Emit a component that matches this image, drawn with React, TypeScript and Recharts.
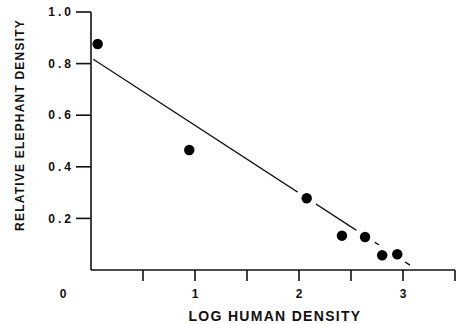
import React from "react";
import { ScatterChart, Scatter, XAxis, YAxis } from "recharts";

const xValues = [0.064, 0.945, 2.074, 2.413, 2.635, 2.8, 2.945];
const yValues = [0.876, 0.465, 0.278, 0.133, 0.128, 0.057, 0.061];
const fitX = [0.022, 3.067];
const fitY = [0.817, 0.019];
const xTicks = [0, 0.5, 1, 1.5, 2, 2.5, 3, 3.5];
const yTicks = [0.2, 0.4, 0.6, 0.8, 1.0];
const xLabelText = "LOG HUMAN DENSITY";
const yLabelText = "RELATIVE ELEPHANT DENSITY";

const points = xValues.map((x, i) => ({ x, y: yValues[i] }));
const fitLine = fitX.map((x, i) => ({ x, y: fitY[i] }));

const FONT = "'Liberation Sans', Arial, sans-serif";
const INK = "#111";

function XTick(props: any) {
  const { x, y, payload } = props;
  const v = payload.value as number;
  const axisY = y - 19;
  const isInt = Math.abs(v - Math.round(v)) < 1e-9;
  return (
    <g>
      {v !== 0 && (
        <line x1={x} x2={x} y1={axisY} y2={axisY + 11} stroke={INK} strokeWidth={1.6} />
      )}
      {isInt && (
        <text
          x={v === 0 ? x - 28 : x}
          y={y}
          dy="0.71em"
          textAnchor="middle"
          fontFamily={FONT}
          fontWeight="bold"
          fontSize={12}
          fill={INK}
        >
          {String(v)}
        </text>
      )}
    </g>
  );
}

function YTick(props: any) {
  const { x, y, payload } = props;
  return (
    <text
      x={x}
      y={y}
      dy="0.35em"
      textAnchor="end"
      fontFamily={FONT}
      fontWeight="bold"
      fontSize={12}
      letterSpacing={3}
      fill={INK}
    >
      {(payload.value as number).toFixed(1)}
    </text>
  );
}

function YLabel() {
  return (
    <text
      x={24}
      y={125}
      transform="rotate(-90 24 125)"
      textAnchor="middle"
      fontFamily={FONT}
      fontWeight="bold"
      fontSize={12}
      letterSpacing={1.2}
      fill={INK}
    >
      {yLabelText}
    </text>
  );
}

function XLabel() {
  return (
    <text
      x={275}
      y={321}
      textAnchor="middle"
      fontFamily={FONT}
      fontWeight="bold"
      fontSize={14}
      letterSpacing={1.3}
      fill={INK}
    >
      {xLabelText}
    </text>
  );
}

const Halo = (props: any) => (
  <g>
    <defs>
      <clipPath id="haloClip">
        <rect x={93} y={0} width={366} height={268} />
      </clipPath>
    </defs>
    <circle cx={props.cx} cy={props.cy} r={11} fill="#fff" clipPath="url(#haloClip)" />
  </g>
);
const Dot = (props: any) => <circle cx={props.cx} cy={props.cy} r={5.2} fill="#000" />;
const NoShape = () => null;

export default function App() {
  return (
    <div style={{ position: "absolute", left: 0, top: 0, width: 459, height: 324, background: "#fff" }}>
      <ScatterChart width={459} height={324} margin={{ top: 12, right: 4, bottom: 0, left: 0 }}>
        <XAxis
          type="number"
          dataKey="x"
          domain={[0, 3.5]}
          ticks={xTicks}
          interval={0}
          tickLine={false}
          tickSize={11}
          tickMargin={8}
          tick={<XTick />}
          height={54}
          axisLine={{ stroke: INK, strokeWidth: 1.6 }}
          label={<XLabel />}
        />
        <YAxis
          type="number"
          dataKey="y"
          domain={[0, 1]}
          ticks={yTicks}
          interval={0}
          tickSize={15}
          tickMargin={2}
          width={91}
          tick={<YTick />}
          tickLine={{ stroke: INK, strokeWidth: 1.6 }}
          axisLine={{ stroke: INK, strokeWidth: 1.6 }}
          label={<YLabel />}
        />
        <Scatter
          data={fitLine}
          line={{ stroke: "#111", strokeWidth: 1.3 }}
          shape={<NoShape />}
          isAnimationActive={false}
        />
        <Scatter data={points} shape={<Halo />} isAnimationActive={false} />
        <Scatter data={points} shape={<Dot />} isAnimationActive={false} />
      </ScatterChart>
    </div>
  );
}
